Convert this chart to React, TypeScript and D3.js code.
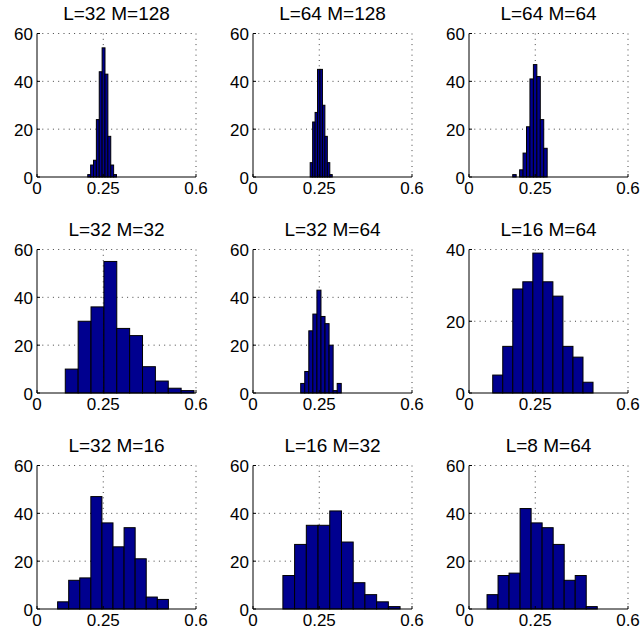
import React from "react";
import * as d3 from "d3";

// ---- data ----
const titles = [
  "L=32 M=128", "L=64 M=128", "L=64 M=64",
  "L=32 M=32", "L=32 M=64", "L=16 M=64",
  "L=32 M=16", "L=16 M=32", "L=8 M=64",
];
const yMaxes = [60, 60, 60, 60, 60, 40, 60, 60, 60];
const binStarts = [0.1915, 0.2158, 0.165, 0.1067, 0.18, 0.0895, 0.0778, 0.1128, 0.068];
const binEnds = [0.300, 0.299, 0.295, 0.5925, 0.333, 0.468, 0.4958, 0.555, 0.484];
const counts1 = [1, 5, 7, 24, 44, 54, 43, 17, 5, 1];
const counts2 = [6, 23, 27, 45, 45, 30, 17, 6, 1];
const counts3 = [1, 0, 3, 10, 21, 41, 47, 42, 24, 12];
const counts4 = [10, 30, 36, 55, 27, 24, 11, 5, 2, 1];
const counts5 = [4, 9, 26, 33, 43, 32, 29, 20, 1, 4];
const counts6 = [5, 13, 29, 31, 39, 31, 27, 13, 10, 3];
const counts7 = [3, 12, 13, 47, 36, 26, 34, 21, 5, 4];
const counts8 = [14, 27, 35, 35, 41, 28, 11, 6, 3, 1];
const counts9 = [6, 14, 15, 42, 36, 34, 27, 12, 14, 1];
const allCounts = [counts1, counts2, counts3, counts4, counts5, counts6, counts7, counts8, counts9];
const xTicks = [0, 0.25, 0.6];
const xTickLabels = ["0", "0.25", "0.6"];
const yTicks60 = [0, 20, 40, 60];
const yTicks40 = [0, 20, 40];

// ---- layout ----
const W = 641;
const H = 641;
const colLefts = [37, 253, 469];
const rowTops = [33.5, 249.5, 465.5];
const axW = 159;
const axH = 143.5;
const FONT = "'Liberation Sans', Arial, Helvetica, sans-serif";
const BAR_FILL = "#00008f";

function Panel({ idx }: { idx: number }) {
  const left = colLefts[idx % 3];
  const top = rowTops[Math.floor(idx / 3)];
  const yMax = yMaxes[idx];
  const counts = allCounts[idx];
  const x = d3.scaleLinear().domain([0, 0.6]).range([left, left + axW]);
  const y = d3.scaleLinear().domain([0, yMax]).range([top + axH, top]);
  const n = counts.length;
  const w = (binEnds[idx] - binStarts[idx]) / n;
  const bins = counts.map((c, i) => ({ x0: binStarts[idx] + i * w, x1: binStarts[idx] + (i + 1) * w, c }));
  const yTicks = yMax === 40 ? yTicks40 : yTicks60;
  const grid = "#444";
  const dash = "1 4.3";
  return (
    <g>
      {/* grid */}
      {yTicks.filter((t) => t > 0).map((t) => (
        <line key={"gy" + t} x1={left} x2={left + axW} y1={y(t)} y2={y(t)} stroke={grid} strokeWidth={1} strokeDasharray={dash} />
      ))}
      {xTicks.filter((t) => t > 0).map((t) => (
        <line key={"gx" + t} x1={x(t)} x2={x(t)} y1={top} y2={top + axH} stroke={grid} strokeWidth={1} strokeDasharray={dash} />
      ))}
      {/* bars */}
      {bins.filter((b) => b.c > 0).map((b, i) => (
        <rect key={"b" + i} x={x(b.x0)} y={y(b.c)} width={x(b.x1) - x(b.x0)} height={y(0) - y(b.c)}
          fill={BAR_FILL} stroke="#000" strokeWidth={1} />
      ))}
      {/* axes */}
      <line x1={left} x2={left + axW} y1={top + axH} y2={top + axH} stroke="#000" strokeWidth={1} />
      <line x1={left} x2={left} y1={top} y2={top + axH} stroke="#000" strokeWidth={1} />
      {yTicks.map((t) => (
        <line key={"ty" + t} x1={left} x2={left + 3} y1={y(t)} y2={y(t)} stroke="#000" strokeWidth={1} />
      ))}
      {xTicks.map((t) => (
        <line key={"tx" + t} x1={x(t)} x2={x(t)} y1={top + axH} y2={top + axH - 3} stroke="#000" strokeWidth={1} />
      ))}
      {/* tick labels */}
      {yTicks.map((t) => (
        <text key={"ly" + t} x={left - 4} y={y(t) + 6.5} textAnchor="end" fontSize={17} fontFamily={FONT} fill="#000">
          {t}
        </text>
      ))}
      {xTicks.map((t, i) => (
        <text key={"lx" + t} x={x(t)} y={top + axH + 17} textAnchor="middle" fontSize={17} fontFamily={FONT} fill="#000">
          {xTickLabels[i]}
        </text>
      ))}
      {/* title */}
      <text x={left + axW / 2} y={top - 14} textAnchor="middle" fontSize={19} fontFamily={FONT} fill="#000">
        {titles[idx]}
      </text>
    </g>
  );
}

export default function App() {
  return (
    <svg width={W} height={H} style={{ position: "absolute", left: 0, top: 0, background: "#fff" }}>
      <rect x={0} y={0} width={W} height={H} fill="#fff" />
      {titles.map((_, i) => (
        <Panel key={i} idx={i} />
      ))}
    </svg>
  );
}
